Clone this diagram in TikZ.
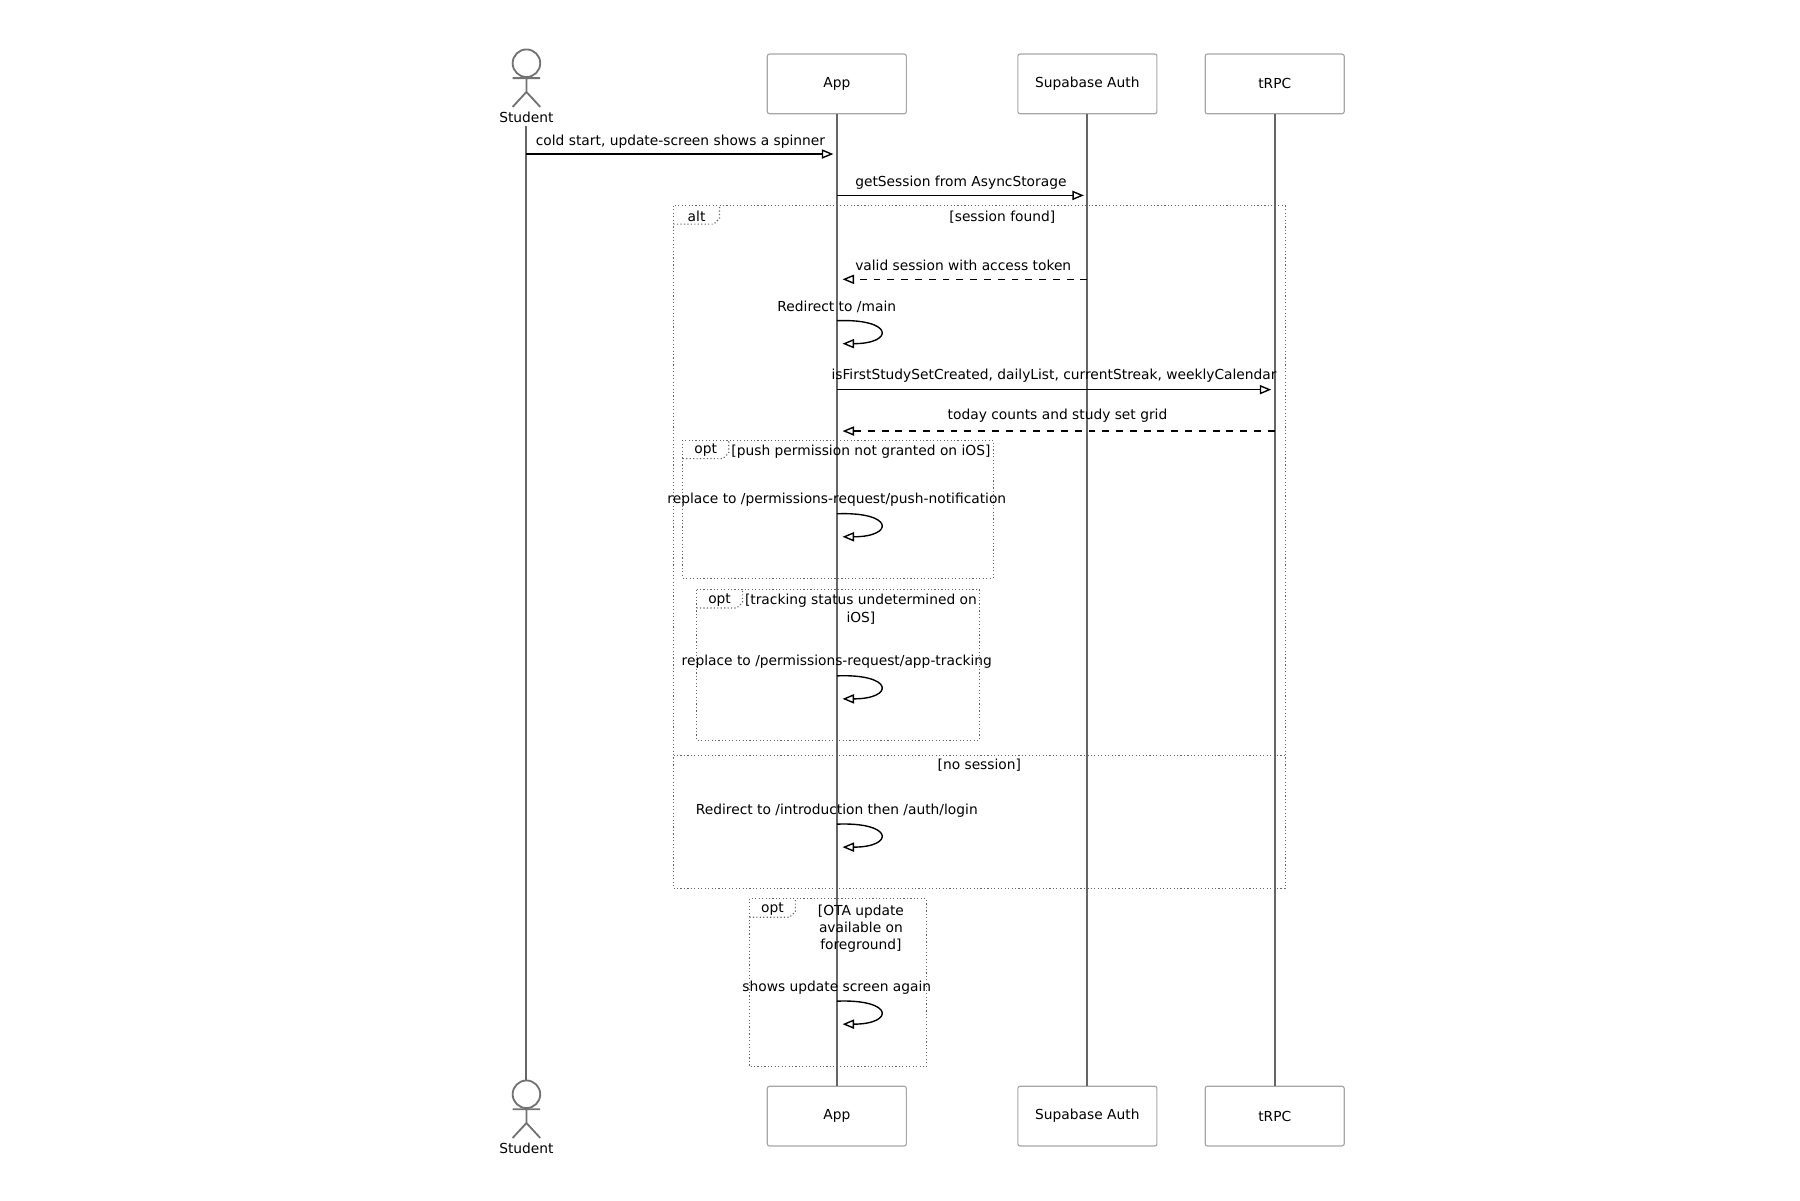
\documentclass[tikz,border=0pt]{standalone}
\usepackage{fontspec}
\setmainfont{DejaVu Sans}
\usetikzlibrary{arrows.meta}
\begin{document}
\begin{tikzpicture}[x=0.5pt,y=-0.5pt,
  box/.style={draw=gray!70,fill=white,rounded corners=1pt,minimum width=60.5pt,minimum height=26pt,font=\fontsize{6}{7.5}\selectfont,line width=0.5pt},
  life/.style={draw=gray!80!black,line width=0.9pt},
  msg/.style={draw=black,line width=0.6pt,-{Triangle[open,length=5pt,width=4pt]}},
  rmsg/.style={msg,dashed},
  lbl/.style={font=\fontsize{6}{7.5}\selectfont,inner sep=0pt,align=center},
  frame/.style={draw=gray!80!black,densely dotted,line width=0.5pt},
  actor/.style={draw=gray!90!black,line width=0.8pt}]
\useasboundingbox (0,0) rectangle (1566,1044);
% lifelines
\coordinate (st) at (458,110); \coordinate (sb) at (458,940);
\draw[life] (st) -- (sb);
\foreach \n/\x/\t in {a/728/App,s/946/Supabase Auth,t/1109/tRPC}{
  \node[box] (\n top) at (\x,73) {\t};
  \node[box] (\n bot) at (\x,971) {\t};
  \draw[life] (\n top) -- (\n bot);
}
% actors
\foreach \y/\nm in {55/sa,952/sb2}{
  \draw[actor] (458,\y) circle (12);
  \draw[actor] (458,\y+12) -- (458,\y+25) (446,\y+13) -- (470,\y+13)
     (458,\y+25) -- (446,\y+38) (458,\y+25) -- (470,\y+38);
  \node[lbl] (\nm) at (458,\y+47) {Student};
}
% frames
\draw[frame] (586,179) rectangle (1118,773);
\draw[frame] (586,195) -- (621,195) -- (626,190) -- (626,179);
\node[lbl] (altl) at (606,188) {alt};
\node[lbl] (g1) at (872,189) {[session found]};
\draw[frame] (586,657) -- (1118,657);
\node[lbl] (g2) at (852,666) {[no session]};
\draw[frame] (594,383) rectangle (864,503);
\draw[frame] (594,399) -- (629,399) -- (634,394) -- (634,383);
\node[lbl] (o1) at (614,392) {opt};
\node[lbl] (o1g) at (749,393) {[push permission not granted on iOS]};
\draw[frame] (606,513) rectangle (852,644);
\draw[frame] (606,529) -- (641,529) -- (646,524) -- (646,513);
\node[lbl] (o2) at (626,522) {opt};
\node[lbl] (o2g) at (749,530) {[tracking status undetermined on\\iOS]};
\draw[frame] (652,782) rectangle (806,928);
\draw[frame] (652,798) -- (687,798) -- (692,793) -- (692,782);
\node[lbl] (o3) at (672,791) {opt};
\node[lbl] (o3g) at (749,808) {[OTA update\\available on\\foreground]};
% messages
\coordinate (m1a) at (458,134); \coordinate (m1b) at (725,134);
\draw[msg] (m1a) -- (m1b);
\node[lbl] (l1) at (592,123) {cold start, update-screen shows a spinner};
\coordinate (m2a) at (728,170); \coordinate (m2b) at (943,170);
\draw[msg] (m2a) -- (m2b);
\node[lbl] (l2) at (836,159) {getSession from AsyncStorage};
\coordinate (m3a) at (946,243); \coordinate (m3b) at (733,243);
\draw[rmsg] (m3a) -- (m3b);
\node[lbl] (l3) at (838,231) {valid session with access token};
\coordinate (m5a) at (728,339); \coordinate (m5b) at (1106,339);
\draw[msg] (m5a) -- (m5b);
\node[lbl] (l5) at (917,327) {isFirstStudySetCreated, dailyList, currentStreak, weeklyCalendar};
\coordinate (m6a) at (1109,375); \coordinate (m6b) at (733,375);
\draw[rmsg] (m6a) -- (m6b);
\node[lbl] (l6) at (920,362) {today counts and study set grid};
% self loops
\foreach \y/\t/\nm in {277/{Redirect to /main}/s1,445/{replace to /permissions-request/push-notification}/s2,586/{replace to /permissions-request/app-tracking}/s3,715/{Redirect to /introduction then /auth/login}/s4,869/{shows update screen again}/s5}{
  \coordinate (\nm a) at (728,\y+2);
  \coordinate (\nm b) at (733,\y+22);
  \draw[msg] (\nm a) .. controls (778,\y) and (778,\y+22) .. (\nm b);
  \node[lbl] (\nm l) at (728,\y-10) {\t};
}
\end{tikzpicture}
\end{document}
